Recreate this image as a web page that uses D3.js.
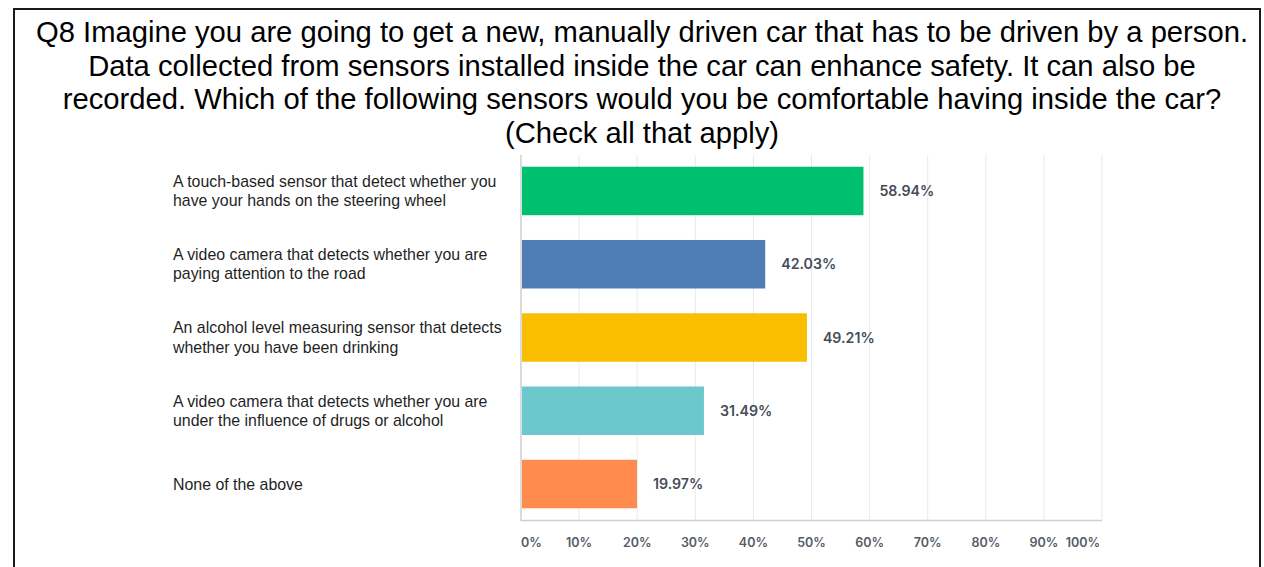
<!DOCTYPE html>
<html><head><meta charset="utf-8">
<script src="https://cdn.jsdelivr.net/npm/d3@7"></script>
<style>
html,body{margin:0;padding:0;background:#fff;}
svg{display:block;}
</style></head>
<body>
<svg id="chart" width="1264" height="567"></svg>
<script>
const titleLines = [
  "Q8 Imagine you are going to get a new, manually driven car that has to be driven by a person.",
  "Data collected from sensors installed inside the car can enhance safety. It can also be",
  "recorded. Which of the following sensors would you be comfortable having inside the car?",
  "(Check all that apply)"
];
const categories = [
  ["A touch-based sensor that detect whether you", "have your hands on the steering wheel"],
  ["A video camera that detects whether you are", "paying attention to the road"],
  ["An alcohol level measuring sensor that detects", "whether you have been drinking"],
  ["A video camera that detects whether you are", "under the influence of drugs or alcohol"],
  ["None of the above"]
];
const values = [58.94, 42.03, 49.21, 31.49, 19.97];
const colors = ["#00bf6f", "#507cb6", "#f9be00", "#6bc8cd", "#ff8b4f"];
const tickValues = [0,10,20,30,40,50,60,70,80,90,100];

const svg = d3.select("#chart");
// frame
svg.append("rect").attr("x",14).attr("y",9).attr("width",1246).attr("height",580)
  .attr("fill","none").attr("stroke","#1a1a1a").attr("stroke-width",2);

// title
svg.append("g").selectAll("text").data(titleLines).join("text")
  .attr("x",642).attr("y",(d,i)=>42+i*33.7)
  .attr("text-anchor","middle")
  .attr("font-family","'Liberation Sans', Arial, sans-serif")
  .attr("font-size",29.2).attr("fill","#000").text(d=>d);

const ids = categories.map((c,i)=>i);
const x = d3.scaleLinear().domain([0,100]).range([521,1102]);
const y = d3.scaleBand().domain(ids).range([155,520]).paddingInner(0.338).paddingOuter(0.16);

// grid
svg.append("g").selectAll("line").data(tickValues.slice(1)).join("line")
  .attr("x1",d=>x(d)).attr("x2",d=>x(d)).attr("y1",155).attr("y2",520)
  .attr("stroke","#e9e9e9").attr("stroke-width",1);
// axes lines
svg.append("line").attr("x1",x(0)).attr("x2",x(0)).attr("y1",155).attr("y2",521)
  .attr("stroke","#cfcfcf").attr("stroke-width",1.5);
svg.append("line").attr("x1",x(0)).attr("x2",x(100)).attr("y1",520.5).attr("y2",520.5)
  .attr("stroke","#cfcfcf").attr("stroke-width",1.5);

// tick labels
svg.append("g").selectAll("text").data(tickValues).join("text")
  .attr("x",d=>d===0?x(d):d===100?x(d)-2:x(d))
  .attr("y",547)
  .attr("text-anchor",d=>d===0?"start":d===100?"end":"middle")
  .attr("font-family","Inter, 'Noto Sans', sans-serif").attr("font-weight",600)
  .attr("font-size",12.5).attr("fill","#545b66").text(d=>d+"%");

// bars
svg.append("g").selectAll("rect").data(values).join("rect")
  .attr("x",x(0)+1).attr("y",(d,i)=>y(i))
  .attr("width",d=>x(d)-x(0)-1).attr("height",y.bandwidth())
  .attr("fill",(d,i)=>colors[i]);

// value labels
svg.append("g").selectAll("text").data(values).join("text")
  .attr("x",d=>x(d)+16).attr("y",(d,i)=>y(i)+y.bandwidth()/2+5)
  .attr("font-family","Inter, 'Noto Sans', sans-serif").attr("font-weight",600)
  .attr("font-size",14.2).attr("fill","#454c57").text(d=>d.toFixed(2)+"%");

// category labels
const cg = svg.append("g").selectAll("text").data(categories).join("text")
  .attr("font-family","'Liberation Sans', Arial, sans-serif")
  .attr("font-size",15.9).attr("fill","#1f1f1f");
cg.each(function(lines,i){
  const mid = y(i) + y.bandwidth()/2;
  const n = lines.length;
  d3.select(this).selectAll("tspan").data(lines).join("tspan")
    .attr("x",173).attr("y",(d,j)=>mid + 5.5 + (j-(n-1)/2)*19.5).text(d=>d);
});
</script>
</body></html>
